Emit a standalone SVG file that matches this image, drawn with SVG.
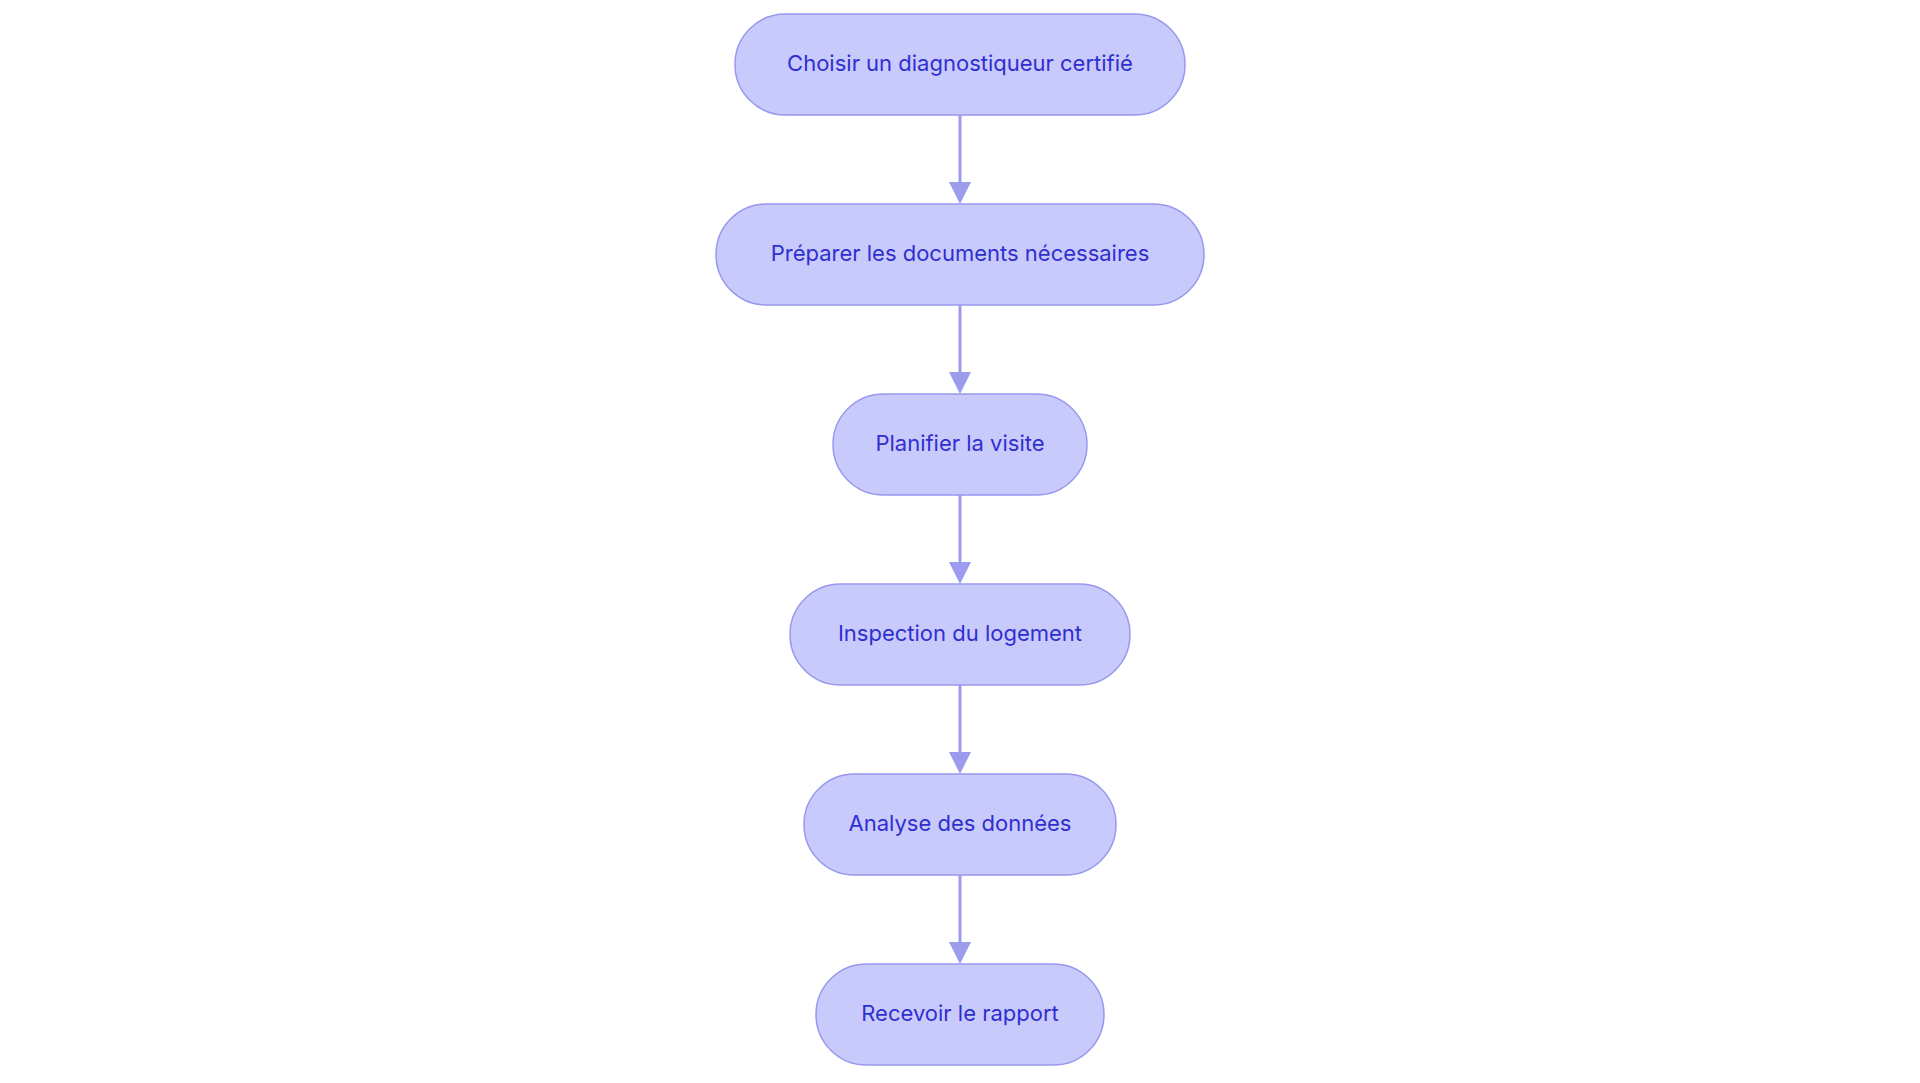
<svg xmlns="http://www.w3.org/2000/svg" width="1920" height="1083" viewBox="0 0 1920 1083">
<style>
.n{fill:#c9cafc;stroke:#9898ee;stroke-width:1.5}
.t{font-family:Inter,"Liberation Sans",sans-serif;font-size:22px;fill:#2f2fd0;text-anchor:middle;dominant-baseline:central}
.e{stroke:#9c9cee;stroke-width:3;fill:none}
</style>
<defs><marker id="a" markerWidth="8" markerHeight="8" refX="7.5" refY="4" orient="auto" markerUnits="userSpaceOnUse" viewBox="0 0 8 8"><path d="M0,0L8,4L0,8z" fill="#9c9cee"/></marker></defs>
<rect width="1920" height="1083" fill="#fff"/>
<g id="edges">
<line class="e" x1="960" y1="115" x2="960" y2="183"/><path d="M949,182L971,182L960,204z" fill="#9c9cee"/>
<line class="e" x1="960" y1="305" x2="960" y2="373"/><path d="M949,372L971,372L960,394z" fill="#9c9cee"/>
<line class="e" x1="960" y1="495" x2="960" y2="563"/><path d="M949,562L971,562L960,584z" fill="#9c9cee"/>
<line class="e" x1="960" y1="685" x2="960" y2="753"/><path d="M949,752L971,752L960,774z" fill="#9c9cee"/>
<line class="e" x1="960" y1="875" x2="960" y2="943"/><path d="M949,942L971,942L960,964z" fill="#9c9cee"/>
</g>
<g id="n1"><rect class="n" x="735" y="14" width="450" height="101" rx="50.5"/><text class="t" x="960" y="63">Choisir un diagnostiqueur certifié</text></g>
<g id="n2"><rect class="n" x="716" y="204" width="488" height="101" rx="50.5"/><text class="t" x="960" y="253">Préparer les documents nécessaires</text></g>
<g id="n3"><rect class="n" x="833" y="394" width="254" height="101" rx="50.5"/><text class="t" x="960" y="443">Planifier la visite</text></g>
<g id="n4"><rect class="n" x="790" y="584" width="340" height="101" rx="50.5"/><text class="t" x="960" y="633">Inspection du logement</text></g>
<g id="n5"><rect class="n" x="804" y="774" width="312" height="101" rx="50.5"/><text class="t" x="960" y="823">Analyse des données</text></g>
<g id="n6"><rect class="n" x="816" y="964" width="288" height="101" rx="50.5"/><text class="t" x="960" y="1013">Recevoir le rapport</text></g>
</svg>
